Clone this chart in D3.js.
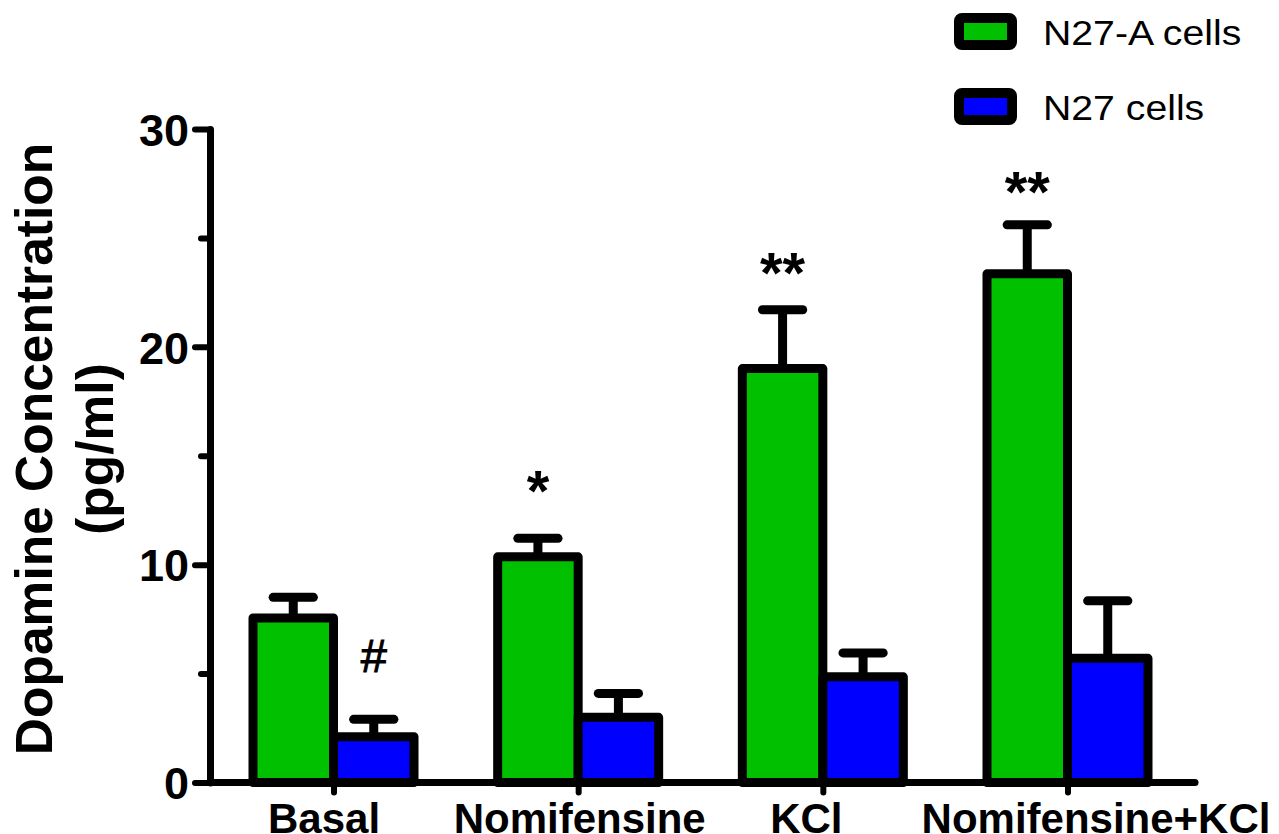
<!DOCTYPE html>
<html>
<head>
<meta charset="utf-8">
<script src="https://cdn.jsdelivr.net/npm/d3@7"></script>
<style>
  body { margin: 0; background: #fff; }
  svg { display: block; font-family: "Liberation Sans", Arial, sans-serif; }
</style>
</head>
<body>
<div id="chart"></div>
<script>
// data
const categories = ["Basal", "Nomifensine", "KCl", "Nomifensine+KCl"]
const series = ["N27-A cells", "N27 cells"]
const colors = ["#00c000", "#0000ff"]
const meanA = [7.55, 10.36, 19.0, 23.35]
const semA = [0.95, 0.85, 2.7, 2.25]
const meanN = [2.1, 2.99, 4.85, 5.7]
const semN = [0.8, 1.1, 1.1, 2.64]
// significance marks: [category, series, label, y position in data units]
const marks = [
  ["Basal", "N27 cells", "#", 5.05],
  ["Nomifensine", "N27-A cells", "*", 12.45],
  ["KCl", "N27-A cells", "**", 22.45],
  ["Nomifensine+KCl", "N27-A cells", "**", 26.2],
]
const majorTicks = [0, 10, 20, 30]
const minorTicks = [5, 15, 25]

const width = 1279, height = 834
// category labels in the original are not exactly centred on their ticks
const labelShift = [-10, 1, -17, 28]

const svg = d3.select("#chart")
  .append("svg")
  .attr("width", width)
  .attr("height", height)

const y = d3.scaleLinear().domain([0, 30]).range([782.5, 129])
const x0 = d3.scalePoint().domain(categories).range([333.5, 1067.5])
const x1 = d3.scaleBand().domain(series).range([-80.5, 80.5])
const axisX = 210

const rows = categories.map((c, i) => ({
  cat: c,
  vals: [
    { s: series[0], mean: meanA[i], sem: semA[i] },
    { s: series[1], mean: meanN[i], sem: semN[i] },
  ],
}))

// error bars (drawn first so the bar outline covers the stem base)
const eg = svg.append("g").attr("class", "errors")
rows.forEach(r => {
  r.vals.forEach(v => {
    const cx = x0(r.cat) + x1(v.s) + x1.bandwidth() / 2
    const capHalf = x1.bandwidth() / 4
    eg.append("line")
      .attr("x1", cx).attr("x2", cx)
      .attr("y1", y(v.mean)).attr("y2", y(v.mean + v.sem))
      .attr("stroke", "#000").attr("stroke-width", 9)
    eg.append("line")
      .attr("x1", cx - capHalf).attr("x2", cx + capHalf)
      .attr("y1", y(v.mean + v.sem)).attr("y2", y(v.mean + v.sem))
      .attr("stroke", "#000").attr("stroke-width", 9)
      .attr("stroke-linecap", "round")
  })
})

// bars
const groups = svg.append("g").attr("class", "bars")
  .selectAll("g")
  .data(rows)
  .enter()
  .append("g")
  .attr("transform", d => `translate(${x0(d.cat)},0)`)

groups.selectAll("rect")
  .data(d => d.vals)
  .enter()
  .append("rect")
  .attr("x", d => x1(d.s))
  .attr("y", d => y(d.mean))
  .attr("width", x1.bandwidth())
  .attr("height", d => y(0) - y(d.mean))
  .attr("fill", d => colors[series.indexOf(d.s)])
  .attr("stroke", "#000")
  .attr("stroke-width", 9)
  .attr("stroke-linejoin", "round")

// y axis
const yAxis = svg.append("g")
  .attr("transform", `translate(${axisX},0)`)
  .call(d3.axisLeft(y).tickValues(majorTicks).tickSize(15).tickSizeOuter(0).tickPadding(6))
yAxis.select(".domain").attr("stroke-width", 7).attr("stroke-linecap", "round")
yAxis.selectAll(".tick line").attr("stroke-width", 6).attr("stroke-linecap", "round")
yAxis.selectAll(".tick text")
  .attr("font-size", 45)
  .attr("font-weight", "bold")
  .attr("font-family", "Liberation Sans, Arial, sans-serif")
  .attr("fill", "#000")
  .attr("dy", "0.36em")

const yMinor = svg.append("g")
  .attr("transform", `translate(${axisX},0)`)
  .call(d3.axisLeft(y).tickValues(minorTicks).tickSize(9).tickFormat(""))
yMinor.select(".domain").remove()
yMinor.selectAll(".tick line").attr("stroke-width", 6).attr("stroke-linecap", "round")

// x axis line
svg.append("line")
  .attr("x1", axisX).attr("x2", 1195)
  .attr("y1", y(0)).attr("y2", y(0))
  .attr("stroke", "#000").attr("stroke-width", 7)
  .attr("stroke-linecap", "round")

const xAxis = svg.append("g")
  .attr("transform", `translate(0,${y(0)})`)
  .call(d3.axisBottom(x0).tickSize(10).tickPadding(0))
xAxis.select(".domain").remove()
xAxis.selectAll(".tick line").attr("stroke-width", 6).attr("stroke-linecap", "round")
xAxis.selectAll(".tick text")
  .attr("x", (d, i) => labelShift[i])
  .attr("y", 50)
  .attr("dy", 0)
  .attr("font-size", 42)
  .attr("font-weight", "bold")
  .attr("font-family", "Liberation Sans, Arial, sans-serif")
  .attr("fill", "#000")

// y axis title
const title = svg.append("text")
  .attr("transform", "translate(0,449) rotate(-90)")
  .attr("text-anchor", "middle")
  .attr("font-size", 51.5)
  .attr("font-weight", "bold")
title.append("tspan").attr("x", 0).attr("y", 52).text("Dopamine Concentration")
title.append("tspan").attr("x", 0).attr("y", 113).text("(pg/ml)")

// significance marks
svg.append("g").selectAll("text")
  .data(marks)
  .enter()
  .append("text")
  .attr("x", d => x0(d[0]) + x1(d[1]) + x1.bandwidth() / 2)
  .attr("y", d => y(d[3]))
  .attr("text-anchor", "middle")
  .attr("font-size", d => d[2] === "#" ? 47 : 58)
  .attr("font-weight", d => d[2] === "#" ? "normal" : "bold")
  .attr("stroke", d => d[2] === "#" ? "#000" : "none")
  .attr("stroke-width", 1)
  .text(d => d[2])

// legend
const legend = svg.append("g").attr("class", "legend")
series.forEach((s, i) => {
  const g = legend.append("g").attr("transform", `translate(959,${18 + i * 75})`)
  g.append("rect")
    .attr("width", 53).attr("height", 27)
    .attr("rx", 3)
    .attr("fill", colors[i])
    .attr("stroke", "#000").attr("stroke-width", 10)
  const t = g.append("text")
    .attr("x", 84).attr("y", 27)
    .attr("font-size", 35)
    .text(s)
  // the original legend type is a little wider than plain Arial
  const w = t.node().getComputedTextLength()
  t.attr("textLength", w * 1.12).attr("lengthAdjust", "spacingAndGlyphs")
})
</script>
</body>
</html>
